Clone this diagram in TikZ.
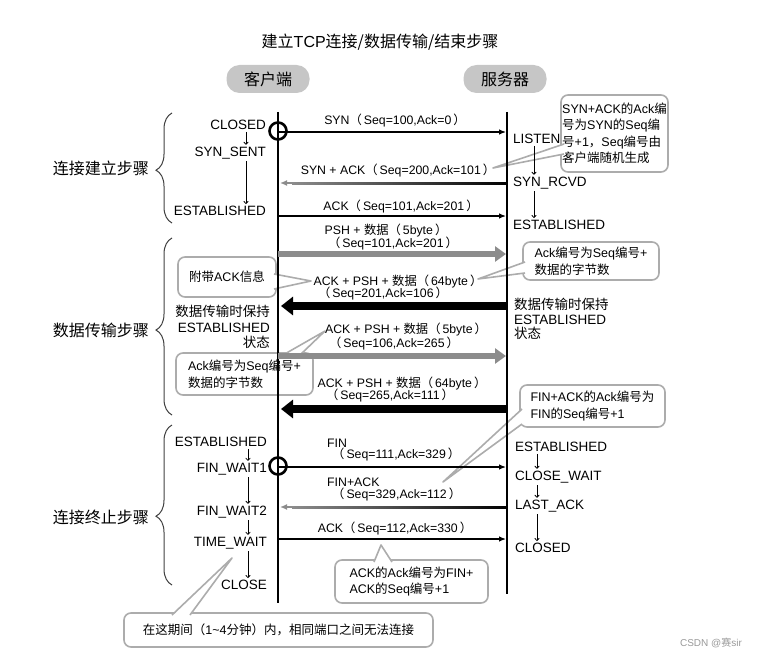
\documentclass[tikz,border=0pt]{standalone}
\usepackage{fontspec}
\setmainfont{Liberation Sans}
\newfontfamily\zh{Noto Sans CJK SC}
\newcommand\zlp{{\zh （}\hspace{2pt}}
\newcommand\zrp{\hspace{2pt}{\zh ）}}
\usetikzlibrary{arrows.meta,decorations.pathreplacing}
\begin{document}
\begin{tikzpicture}[x=1pt,y=-1pt,
 st/.style={font=\fontsize{13.5}{15}\selectfont, inner sep=0pt},
 lb/.style={font=\fontsize{12.3}{14}\selectfont, inner sep=0pt},
 ph/.style={font=\fontsize{16}{18}\selectfont\zh, inner sep=0pt, anchor=east},
 co/.style={draw=gray!65, line width=1.6pt, rounded corners=7pt, fill=white, font=\fontsize{12.5}{16.5}\selectfont, align=left, inner sep=0pt},
 tailfill/.style={fill=white},
 taildraw/.style={draw=gray!65, line width=1.6pt, line join=round},
 life/.style={line width=2.2pt},
 tarr/.style={line width=1.2pt, -{Latex[length=7pt,width=5.5pt]}},
 tgray/.style={line width=2pt, draw=black!45, -{Latex[length=7pt,width=6pt]}},
 fatgray/.style={line width=6pt, draw=gray!90, -{Triangle[length=11pt,width=15pt]}},
 fatblack/.style={line width=8pt, draw=black, -{Triangle[length=12pt,width=18pt]}},
 sarr/.style={line width=0.8pt, shorten <=2pt, shorten >=2pt, -{To[length=3pt,width=5pt]}},
 pill/.style={fill=gray!45, rounded corners=13pt, minimum width=83pt, minimum height=28pt, font=\fontsize{16}{18}\selectfont\zh},
 brc/.style={decorate, decoration={brace, amplitude=16pt, aspect=#1}, line width=1pt, draw=black!75},
 ring/.style={circle, draw, line width=2.6pt, minimum size=17pt, inner sep=0pt}
]
\useasboundingbox (0,0) rectangle (757,658);

% title and headers
\node[font=\fontsize{16}{18}\selectfont] (title) at (380,42) {{\zh 建立}TCP{\zh 连接/数据传输/结束步骤}};
\node[pill] (client) at (268,79) {客户端};
\node[pill] (server) at (505,79) {服务器};

% phase labels and braces
\node[ph] (p1) at (149,168) {连接建立步骤};
\node[ph] (p2) at (149,330) {数据传输步骤};
\node[ph] (p3) at (149,517) {连接终止步骤};
\coordinate (b1a) at (172,223); \coordinate (b1b) at (172,113);
\coordinate (b2a) at (172,415); \coordinate (b2b) at (172,238);
\coordinate (b3a) at (172,585); \coordinate (b3b) at (172,425);
\draw[brc=0.48] (b1a) -- (b1b);
\draw[brc=0.48] (b2a) -- (b2b);
\draw[brc=0.43] (b3a) -- (b3b);

% callouts
\node[co, minimum width=107pt, minimum height=77pt] (cA) at (614.5,133.5) {SYN+ACK{\zh 的}Ack{\zh 编}\\{\zh 号为}SYN{\zh 的}Seq{\zh 编}\\{\zh 号}+1{\zh ，}Seq{\zh 编号由}\\{\zh 客户端随机生成}};
\fill[tailfill] (565,144) -- (493,168) -- (565,154) -- cycle;
\draw[taildraw] (564,144) -- (493,168) -- (564,154);

\node[co, minimum width=98pt, minimum height=40pt, align=center] (cB) at (227,277) {{\zh 附带}ACK{\zh 信息}};
\fill[tailfill] (273,274) -- (311,281) -- (273,289) -- cycle;
\draw[taildraw] (274,274) -- (311,281) -- (274,289);

\node[co, minimum width=137pt, minimum height=42pt] (cC) at (244.5,374) {Ack{\zh 编号为}Seq{\zh 编号}+\\{\zh 数据的字节数}};
\fill[tailfill] (283,356) -- (325,331) -- (300,356) -- cycle;
\draw[taildraw] (283,355) -- (325,331) -- (300,355);

\node[co, minimum width=136pt, minimum height=38pt] (cD) at (591,261) {Ack{\zh 编号为}Seq{\zh 编号}+\\{\zh 数据的字节数}};
\fill[tailfill] (526,262) -- (478,279) -- (526,273) -- cycle;
\draw[taildraw] (525,262) -- (478,279) -- (525,273);

\node[co, minimum width=145pt, minimum height=42pt] (cE) at (592.5,406) {FIN+ACK{\zh 的}Ack{\zh 编号为}\\FIN{\zh 的}Seq{\zh 编号}+1};
\fill[tailfill] (523,409) -- (443,482) -- (523,424) -- cycle;
\draw[taildraw] (522,409) -- (443,482) -- (522,424);

\node[co, minimum width=153pt, minimum height=43pt] (cF) at (411.5,581.5) {ACK{\zh 的}Ack{\zh 编号为}FIN+\\ACK{\zh 的}Seq{\zh 编号}+1};
\fill[tailfill] (374,563) -- (381,545) -- (392,563) -- cycle;
\draw[taildraw] (374,562) -- (381,545) -- (392,562);

\node[co, minimum width=309pt, minimum height=34pt] (cG) at (278.5,630) {{\zh 在这期间（}1\textasciitilde4{\zh 分钟）内，相同端口之间无法连接}};
\fill[tailfill] (172,616) -- (232,558) -- (190,616) -- cycle;
\draw[taildraw] (172,615) -- (232,558) -- (190,615);

% lifelines
\coordinate (ct) at (278,112); \coordinate (cb) at (278,603);
\coordinate (stp) at (507,112); \coordinate (sb) at (507,594);
\draw[life] (ct) -- (cb);
\draw[life] (stp) -- (sb);

% handshake
\coordinate (c1) at (278,132); \coordinate (s1) at (506,132);
\coordinate (c2) at (280,183); \coordinate (s2) at (507,183);
\coordinate (c3) at (278,216); \coordinate (s3) at (506,216);
\coordinate (g2) at (292,183);
\draw[tarr] (c1) -- (s1);
\shade[left color=black!45, right color=black] ([yshift=-1pt]g2) rectangle ([yshift=1pt]s2);
\draw[tgray] (g2) -- (c2);
\draw[tarr] (c3) -- (s3);
\node[ring] (o1) at (278,131) {};
\node[lb] (l1) at (395,121) {SYN\zlp Seq=100,Ack=0\zrp};
\node[lb] (l2) at (398,171) {SYN + ACK\zlp Seq=200,Ack=101\zrp};
\node[lb] (l3) at (401,207) {ACK\zlp Seq=101,Ack=201\zrp};

% data transfer
\coordinate (c4) at (278,254); \coordinate (s4) at (506,254);
\coordinate (c5) at (281,306); \coordinate (s5) at (507,306);
\coordinate (c6) at (278,356); \coordinate (s6) at (506,356);
\coordinate (c7) at (281,409); \coordinate (s7) at (507,409);
\draw[fatgray] (c4) -- (s4);
\draw[fatblack] (s5) -- (c5);
\draw[fatgray] (c6) -- (s6);
\draw[fatblack] (s7) -- (c7);
\node[lb] (l4a) at (386,231) {PSH + {\zh 数据}\zlp 5byte\zrp};
\node[lb] (l4b) at (393,244) {\zlp Seq=101,Ack=201\zrp};
\node[lb] (l5a) at (398,282) {ACK + PSH + {\zh 数据}\zlp 64byte\zrp};
\node[lb] (l5b) at (383,294) {\zlp Seq=201,Ack=106\zrp};
\node[lb] (l6a) at (406,330) {ACK + PSH + {\zh 数据}\zlp 5byte\zrp};
\node[lb] (l6b) at (394,344) {\zlp Seq=106,Ack=265\zrp};
\node[lb] (l7a) at (402,384) {ACK + PSH + {\zh 数据}\zlp 64byte\zrp};
\node[lb] (l7b) at (390,396) {\zlp Seq=265,Ack=111\zrp};

% termination
\coordinate (c8) at (278,467); \coordinate (s8) at (506,467);
\coordinate (c9) at (280,507); \coordinate (s9) at (507,507);
\coordinate (c10) at (278,539); \coordinate (s10) at (506,539);
\coordinate (g9) at (292,507);
\draw[tarr] (c8) -- (s8);
\shade[left color=black!45, right color=black] ([yshift=-1pt]g9) rectangle ([yshift=1pt]s9);
\draw[tgray] (g9) -- (c9);
\draw[tarr] (c10) -- (s10);
\node[ring] (o2) at (278,466) {};
\node[lb, anchor=west] (l8a) at (327,443) {FIN};
\node[lb, anchor=west] (l8b) at (332,455) {\zlp Seq=111,Ack=329\zrp};
\node[lb, anchor=west] (l9a) at (327,482) {FIN+ACK};
\node[lb, anchor=west] (l9b) at (332,495) {\zlp Seq=329,Ack=112\zrp};
\node[lb] (l10) at (395,529) {ACK\zlp Seq=112,Ack=330\zrp};

% client states
\coordinate (ax1) at (246,0);
\node[st, anchor=east] (closed) at (266,125) {CLOSED};
\node[st, anchor=east] (synsent) at (266,153) {SYN\_SENT};
\node[st, anchor=east] (cest1) at (266,211) {ESTABLISHED};
\draw[sarr] (closed.south -| ax1) -- (synsent.north -| ax1);
\draw[sarr] (synsent.south -| ax1) -- (cest1.north -| ax1);

\node[st, anchor=east, align=right, font=\fontsize{13.5}{15.5}\selectfont] (cdata) at (270,327) {{\zh 数据传输时保持}\\ESTABLISHED\\{\zh 状态}};

\coordinate (ax2) at (248,0);
\node[st, anchor=east] (cest2) at (267,442) {ESTABLISHED};
\node[st, anchor=east] (fw1) at (267,469) {FIN\_WAIT1};
\node[st, anchor=east] (fw2) at (267,512) {FIN\_WAIT2};
\node[st, anchor=east] (tw) at (267,543) {TIME\_WAIT};
\node[st, anchor=east] (cclose) at (267,585) {CLOSE};
\draw[sarr] (cest2.south -| ax2) -- (fw1.north -| ax2);
\draw[sarr] (fw1.south -| ax2) -- (fw2.north -| ax2);
\draw[sarr] (fw2.south -| ax2) -- (tw.north -| ax2);
\draw[sarr] (tw.south -| ax2) -- (cclose.north -| ax2);

% server states
\coordinate (ax3) at (534,0);
\node[st, anchor=west] (listen) at (513,139) {LISTEN};
\node[st, anchor=west] (synrcvd) at (513,183) {SYN\_RCVD};
\node[st, anchor=west] (sest1) at (513,225) {ESTABLISHED};
\draw[sarr] (listen.south -| ax3) -- (synrcvd.north -| ax3);
\draw[sarr] (synrcvd.south -| ax3) -- (sest1.north -| ax3);

\node[st, anchor=west, align=left, font=\fontsize{13.5}{14.5}\selectfont] (sdata) at (514,319) {{\zh 数据传输时保持}\\ESTABLISHED\\{\zh 状态}};

\coordinate (ax4) at (537,0);
\node[st, anchor=west] (sest2) at (515,447) {ESTABLISHED};
\node[st, anchor=west] (cw) at (515,477) {CLOSE\_WAIT};
\node[st, anchor=west] (lack) at (515,506) {LAST\_ACK};
\node[st, anchor=west] (sclosed) at (515,548) {CLOSED};
\draw[sarr] (sest2.south -| ax4) -- (cw.north -| ax4);
\draw[sarr] (cw.south -| ax4) -- (lack.north -| ax4);
\draw[sarr] (lack.south -| ax4) -- (sclosed.north -| ax4);

% watermark
\node[font=\fontsize{10}{12}\selectfont, text=gray!80] (wm) at (711,643) {CSDN @{\zh 赛}sir};
\end{tikzpicture}
\end{document}
